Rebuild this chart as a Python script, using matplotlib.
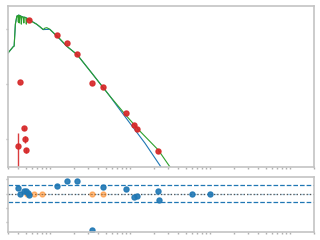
import matplotlib
matplotlib.use('Agg')
import matplotlib.pyplot as plt

# model spectra (wavelength in micron, lambda*F_lambda)
wave_model = [0.292, 0.348, 0.358, 0.371, 0.387, 0.398, 0.404, 0.409, 0.415, 0.422,
              0.434, 0.440, 0.447, 0.466, 0.473, 0.480, 0.501, 0.508, 0.516, 0.562,
              0.613, 0.682, 0.750, 0.825, 0.866, 0.917, 1.0, 1.10, 1.22, 1.33,
              1.645, 2.19, 3.35, 5.62, 9.1, 13.3, 22.7, 31.6, 37.6]
flux_model = [3.5e-10, 4.77e-10, 4.91e-10, 1.23e-9, 1.72e-9, 1.76e-9, 1.34e-9, 1.80e-9, 1.29e-9, 1.76e-9,
              1.72e-9, 1.23e-9, 1.69e-9, 1.65e-9, 1.29e-9, 1.65e-9, 1.62e-9, 1.23e-9, 1.58e-9, 1.46e-9,
              1.34e-9, 1.23e-9, 1.11e-9, 9.8e-10, 1.04e-9, 1.06e-9, 9.9e-10, 8.7e-10, 7.46e-10, 6.71e-10,
              4.81e-10, 3.44e-10, 1.58e-10, 6.05e-11, 2.62e-11, 1.40e-11, 6.3e-12, 3.13e-12, 2.41e-12]

wave_photo = [0.292, 0.348, 0.358, 0.371, 0.387, 0.398, 0.409, 0.422, 0.447, 0.466,
              0.501, 0.562, 0.682, 0.825, 1.0, 1.22, 1.645, 2.19, 3.35, 5.62,
              7.08, 10.0, 15.4, 24.4, 31.6]
flux_photo = [3.5e-10, 4.77e-10, 4.91e-10, 1.23e-9, 1.72e-9, 1.76e-9, 1.80e-9, 1.76e-9, 1.69e-9, 1.65e-9,
              1.62e-9, 1.46e-9, 1.23e-9, 9.8e-10, 9.9e-10, 7.46e-10, 4.81e-10, 3.44e-10, 1.58e-10, 6.05e-11,
              3.82e-11, 1.95e-11, 8.46e-12, 3.13e-12, 1.95e-12]

# observed photometry
wave_obs = [0.40, 0.418, 0.477, 0.49, 0.50, 0.55, 1.23, 1.64, 2.19, 3.38, 4.64, 9.0, 11.2, 12.3, 22.6]
flux_obs = [7.4e-12, 1.07e-10, 1.57e-11, 1.0e-11, 6.2e-12, 1.48e-9, 7.7e-10, 5.5e-10, 3.5e-10,
            1.03e-10, 8.7e-11, 2.95e-11, 1.8e-11, 1.5e-11, 6.0e-12]
ferr_obs = [5.5e-12, 2e-12, 1e-12, 1.5e-12, 7e-13, 3e-11, 1.5e-11, 1e-11, 7e-12,
            2e-12, 1.5e-12, 6e-13, 4e-13, 3e-13, 1.5e-13]

# residuals
wave_res = [0.40, 0.418, 0.477, 0.50, 0.535, 0.55, 1.23, 1.64, 2.19, 3.38, 4.64, 9.0,
            11.2, 12.3, 22.6, 23.3, 60.1, 100.9]
res = [0.36, 0.0, 0.17, 0.17, 0.06, -0.13, 0.52, 0.85, 0.85, -2.57, 0.45, 0.29,
       -0.24, -0.17, 0.15, -0.48, 0.0, 0.0]
wave_excl = [0.511, 0.637, 0.788, 3.38, 4.64]
res_excl = [0, 0, 0, 0, 0]

fig = plt.figure(figsize=(3.2, 2.4), dpi=100)
ax1 = fig.add_axes([0.025, 0.304, 0.956, 0.671])
ax2 = fig.add_axes([0.025, 0.033, 0.956, 0.229])

ax1.plot(wave_photo, flux_photo, color='#1f77b4', lw=0.8)
ax1.plot(wave_model, flux_model, color='#2ca02c', lw=0.8)
ax1.errorbar(wave_obs, flux_obs, yerr=ferr_obs, fmt='o', color='#d62728',
             ms=3.6, elinewidth=1, capsize=0, alpha=0.9)
ax1.set_xscale('log')
ax1.set_yscale('log')
ax1.set_xlim(0.3, 2000)
ax1.set_ylim(10**-11.51, 10**-8.58)

ax2.axhline(0.6, color='#1f77b4', ls='--', lw=0.9)
ax2.axhline(-0.6, color='#1f77b4', ls='--', lw=0.9)
ax2.axhline(0, color='#1f77b4', ls='--', lw=0.9, alpha=0.35)
ax2.axhline(0, color='#555555', ls=':', lw=0.9)
ax2.plot(wave_excl, res_excl, 'o', color='#ff7f0e', ms=3.6, alpha=0.5)
ax2.plot(wave_res, res, 'o', color='#1f77b4', ms=3.6, alpha=0.9)
ax2.set_xscale('log')
ax2.set_xlim(0.3, 2000)
ax2.set_ylim(-2.69, 1.15)
ax2.set_yticks([-2, -1, 0, 1])

for ax in (ax1, ax2):
    for s in ax.spines.values():
        s.set_color('#c4c4c4')
        s.set_linewidth(1.2)
    ax.tick_params(which='both', colors='#b0b0b0', labelleft=False, labelbottom=False,
                   length=1.5, width=1)
    ax.tick_params(which='minor', axis='y', length=0)

fig.savefig('out.png', dpi=100)
